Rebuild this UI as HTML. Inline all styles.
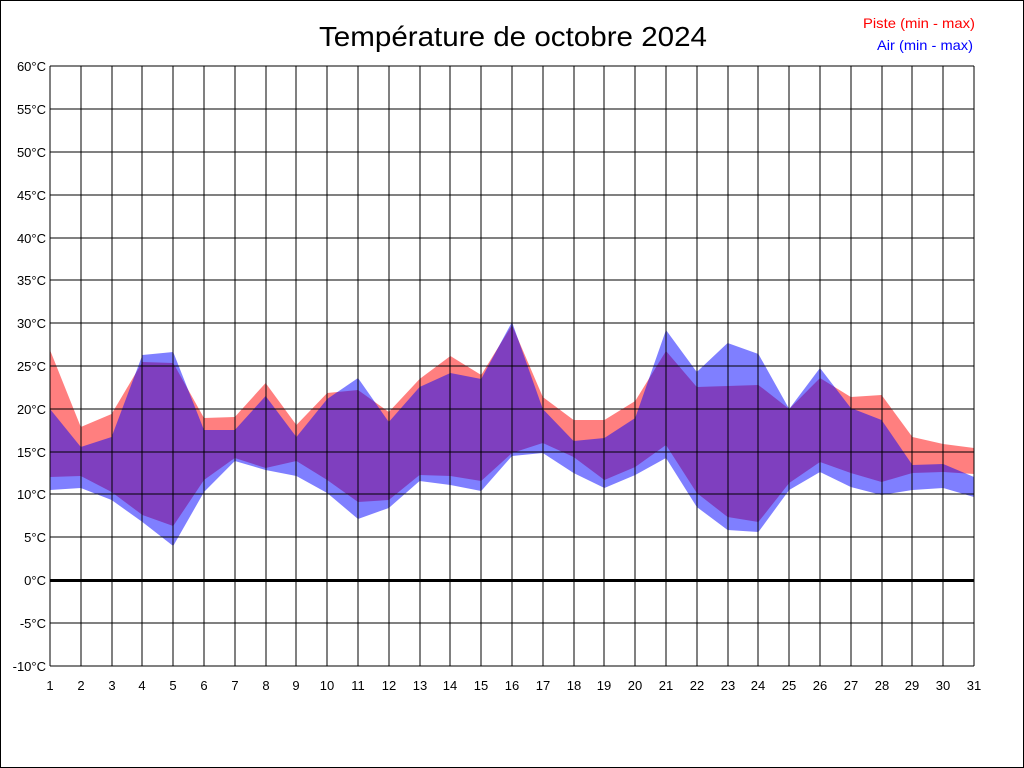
<!DOCTYPE html>
<html><head><meta charset="utf-8"><style>
html,body{margin:0;padding:0;background:#fff;}
svg{display:block;font-family:"Liberation Sans",Arial,sans-serif;}
</style></head><body>
<svg width="1024" height="768" viewBox="0 0 1024 768" xmlns="http://www.w3.org/2000/svg">
<rect x="0.5" y="0.5" width="1023" height="767" fill="#fff" stroke="#000"/>
<text x="513" y="46" font-size="28" text-anchor="middle" textLength="388" lengthAdjust="spacingAndGlyphs">Température de octobre 2024</text>
<text x="975" y="28" font-size="14" fill="#f00" text-anchor="end" textLength="112" lengthAdjust="spacingAndGlyphs">Piste (min - max)</text>
<text x="973" y="50" font-size="14" fill="#00f" text-anchor="end" textLength="96" lengthAdjust="spacingAndGlyphs">Air (min - max)</text>
<polygon fill="rgba(255,0,0,0.5)" points="50,350 80.8,427 111.6,414 142.4,362 173.2,363 204,418 234.8,417 265.6,383 296.4,425 327.2,393 358,390 388.8,412 419.6,379 450.4,356 481.2,375 512,325 542.8,397 573.6,420 604.4,420 635.2,401 666,351 696.8,387 727.6,386 758.4,385 789.2,409 820,378 850.8,397 881.6,395 912.4,437 943.2,444 974,448 974,474 943.2,472 912.4,473 881.6,482 850.8,473 820,462 789.2,483 758.4,522 727.6,517 696.8,493 666,445 635.2,467 604.4,480 573.6,457 542.8,443 512,453 481.2,481 450.4,476 419.6,475 388.8,500 358,502 327.2,480 296.4,461 265.6,468 234.8,458 204,480 173.2,526 142.4,515 111.6,492 80.8,476 50,477"/>
<polygon fill="rgba(0,0,255,0.5)" points="50,409 80.8,447 111.6,437 142.4,355 173.2,352 204,430 234.8,430 265.6,396 296.4,437 327.2,399 358,378 388.8,422 419.6,387 450.4,373 481.2,379 512,322 542.8,409 573.6,441 604.4,438 635.2,418 666,330 696.8,372 727.6,343 758.4,354 789.2,409 820,368 850.8,408 881.6,420 912.4,465 943.2,464 974,477 974,497 943.2,488 912.4,490 881.6,495 850.8,487 820,472 789.2,490 758.4,532 727.6,530 696.8,507 666,458 635.2,475 604.4,488 573.6,473 542.8,453 512,456 481.2,491 450.4,485 419.6,481 388.8,508 358,519 327.2,493 296.4,476 265.6,470 234.8,461 204,492 173.2,546 142.4,522 111.6,500 80.8,488 50,490"/>
<g stroke="#000" stroke-width="1" shape-rendering="crispEdges">
<line x1="50" y1="66" x2="974" y2="66"/><line x1="50" y1="109" x2="974" y2="109"/><line x1="50" y1="152" x2="974" y2="152"/><line x1="50" y1="195" x2="974" y2="195"/><line x1="50" y1="238" x2="974" y2="238"/><line x1="50" y1="280" x2="974" y2="280"/><line x1="50" y1="323" x2="974" y2="323"/><line x1="50" y1="366" x2="974" y2="366"/><line x1="50" y1="409" x2="974" y2="409"/><line x1="50" y1="452" x2="974" y2="452"/><line x1="50" y1="494" x2="974" y2="494"/><line x1="50" y1="537" x2="974" y2="537"/><line x1="50" y1="623" x2="974" y2="623"/><line x1="50" y1="666" x2="974" y2="666"/>
<line x1="50" y1="66" x2="50" y2="666"/><line x1="81" y1="66" x2="81" y2="666"/><line x1="112" y1="66" x2="112" y2="666"/><line x1="142" y1="66" x2="142" y2="666"/><line x1="173" y1="66" x2="173" y2="666"/><line x1="204" y1="66" x2="204" y2="666"/><line x1="235" y1="66" x2="235" y2="666"/><line x1="266" y1="66" x2="266" y2="666"/><line x1="296" y1="66" x2="296" y2="666"/><line x1="327" y1="66" x2="327" y2="666"/><line x1="358" y1="66" x2="358" y2="666"/><line x1="389" y1="66" x2="389" y2="666"/><line x1="420" y1="66" x2="420" y2="666"/><line x1="450" y1="66" x2="450" y2="666"/><line x1="481" y1="66" x2="481" y2="666"/><line x1="512" y1="66" x2="512" y2="666"/><line x1="543" y1="66" x2="543" y2="666"/><line x1="574" y1="66" x2="574" y2="666"/><line x1="604" y1="66" x2="604" y2="666"/><line x1="635" y1="66" x2="635" y2="666"/><line x1="666" y1="66" x2="666" y2="666"/><line x1="697" y1="66" x2="697" y2="666"/><line x1="728" y1="66" x2="728" y2="666"/><line x1="758" y1="66" x2="758" y2="666"/><line x1="789" y1="66" x2="789" y2="666"/><line x1="820" y1="66" x2="820" y2="666"/><line x1="851" y1="66" x2="851" y2="666"/><line x1="882" y1="66" x2="882" y2="666"/><line x1="912" y1="66" x2="912" y2="666"/><line x1="943" y1="66" x2="943" y2="666"/><line x1="974" y1="66" x2="974" y2="666"/>
</g>
<rect x="50" y="579" width="924" height="3" fill="#000"/>
<g font-size="13" text-anchor="end">
<text x="46" y="71">60°C</text><text x="46" y="114">55°C</text><text x="46" y="157">50°C</text><text x="46" y="200">45°C</text><text x="46" y="243">40°C</text><text x="46" y="285">35°C</text><text x="46" y="328">30°C</text><text x="46" y="371">25°C</text><text x="46" y="414">20°C</text><text x="46" y="457">15°C</text><text x="46" y="499">10°C</text><text x="46" y="542">5°C</text><text x="46" y="585">0°C</text><text x="46" y="628">-5°C</text><text x="46" y="671">-10°C</text>
</g>
<g font-size="13" text-anchor="middle">
<text x="50" y="690">1</text><text x="81" y="690">2</text><text x="112" y="690">3</text><text x="142" y="690">4</text><text x="173" y="690">5</text><text x="204" y="690">6</text><text x="235" y="690">7</text><text x="266" y="690">8</text><text x="296" y="690">9</text><text x="327" y="690">10</text><text x="358" y="690">11</text><text x="389" y="690">12</text><text x="420" y="690">13</text><text x="450" y="690">14</text><text x="481" y="690">15</text><text x="512" y="690">16</text><text x="543" y="690">17</text><text x="574" y="690">18</text><text x="604" y="690">19</text><text x="635" y="690">20</text><text x="666" y="690">21</text><text x="697" y="690">22</text><text x="728" y="690">23</text><text x="758" y="690">24</text><text x="789" y="690">25</text><text x="820" y="690">26</text><text x="851" y="690">27</text><text x="882" y="690">28</text><text x="912" y="690">29</text><text x="943" y="690">30</text><text x="974" y="690">31</text>
</g>
</svg>
</body></html>
